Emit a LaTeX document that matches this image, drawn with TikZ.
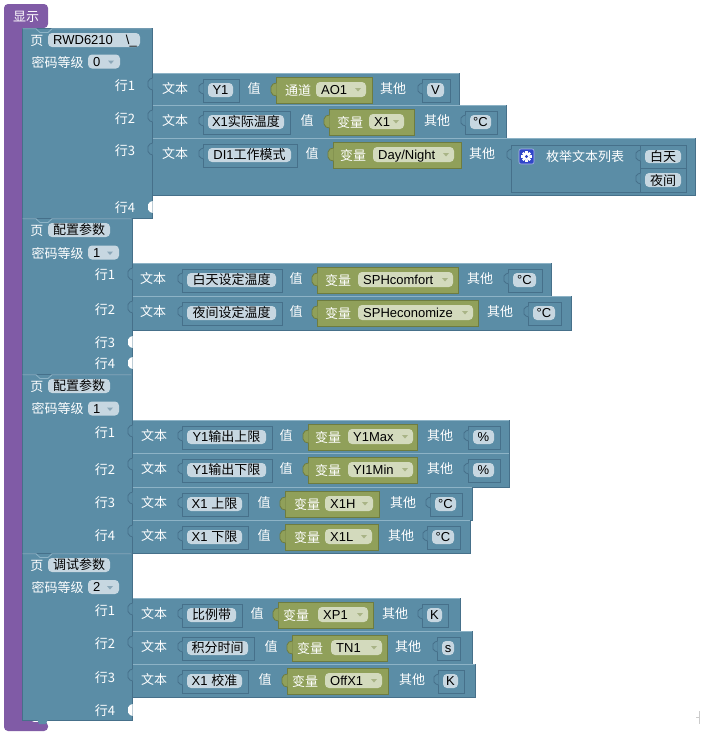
\documentclass[tikz,border=0pt]{standalone}
\usepackage{fontspec}
\setmainfont{Liberation Sans}
\newfontfamily\cjk{Noto Sans CJK SC}
\definecolor{bblue}{HTML}{5B8DA6}
\definecolor{bdark}{HTML}{46708A}
\definecolor{blite}{HTML}{8DB3C6}
\definecolor{purp}{HTML}{805BA6}
\definecolor{grn}{HTML}{90A05A}
\definecolor{gdark}{HTML}{6E7C3F}
\definecolor{fldb}{HTML}{C7D7E1}
\definecolor{fldg}{HTML}{D3DABD}
\definecolor{arrg}{HTML}{A9B486}
\definecolor{arrb}{HTML}{8BA7B8}
\definecolor{gearb}{HTML}{2F45C8}
\tikzset{
 lbl/.style={text=white, font=\fontsize{13}{15}\selectfont\cjk, inner sep=0pt, anchor=base},
 ftxt/.style={text=black, font=\fontsize{13}{15}\selectfont, inner sep=0pt, anchor=base},
 pageb/.style={fill=bblue, draw=bdark, line width=0.8pt},
 rowb/.style={fill=bblue, draw=bdark, line width=0.8pt},
 subb/.style={draw=bdark, line width=0.8pt},
 gblk/.style={fill=grn, draw=gdark, line width=0.8pt},
 hilite/.style={draw=blite, line width=0.8pt},
}
% row block: top, bottom, left, right
\newcommand\RowBlk[4]{%
  \path[rowb] (#3,#1) rectangle (#4,#2);
  \path[hilite] (#3+0.5,#1+0.8) -- (#4-0.5,#1+0.8);
  \path[rowb] (#3+0.6,#1+5) -- (#3-2,#1+6) -- (#3-4,#1+8.5) -- (#3-4,#1+13.5) -- (#3-2,#1+16) -- (#3+0.6,#1+17);
}
% text sub-block: name, top, left, right, text
\newcommand\TxtB[5]{%
  \path[subb, fill=bblue] (#3,#2+6) rectangle (#4,#2+29);
  \path[subb, fill=bblue] (#3+0.6,#2+10) -- (#3-2,#2+11) -- (#3-4,#2+13) -- (#3-4,#2+18) -- (#3-2,#2+20) -- (#3+0.6,#2+21);
  \fill[fldb, rounded corners=4pt] (#3+5,#2+10) rectangle (#4-6,#2+24);
  \node[ftxt] (#1) at ({(#3+#4-1)/2},#2+21.5) {#5};
}
% green block: top, left, right
\newcommand\GrnB[3]{%
  \path[gblk] (#2,#1+4) rectangle (#3,#1+30);
  \path[gblk] (#2+0.6,#1+10) -- (#2-3,#1+11) -- (#2-5,#1+14) -- (#2-5,#1+19) -- (#2-3,#1+22) -- (#2+0.6,#1+23);
}
% green dropdown: name, top, left, right, text
\newcommand\DropG[5]{%
  \fill[fldg, rounded corners=4pt] (#3,#2+9) rectangle (#4,#2+24);
  \node[ftxt, anchor=base west] (#1) at (#3+5,#2+21.5) {#5};
  \fill[arrg] (#4-11,#2+15) -- (#4-5,#2+15) -- (#4-8,#2+18.5) -- cycle;
}
% blue dropdown: name, y-top, left, right, text
\newcommand\DropB[5]{%
  \fill[fldb, rounded corners=4pt] (#3,#2) rectangle (#4,#2+14);
  \node[ftxt, anchor=base west] (#1) at (#3+5,#2+11.5) {#5};
  \fill[arrb] (#4-12,#2+6) -- (#4-6,#2+6) -- (#4-9,#2+9.5) -- cycle;
}
% white empty-input notch: right, y
\newcommand\NotchW[2]{%
  \fill[white] (#1+0.6,#2-7) -- (#1-2,#2-6) -- (#1-4,#2-3.5) -- (#1-4,#2+1.5) -- (#1-2,#2+4) -- (#1+0.6,#2+5) -- cycle;
}
% page: top, bottom, right
\newcommand\PageB[3]{%
  \path[pageb] (22,#1) rectangle (#3,#2);
  \path[hilite] (22.5,#1+0.8) -- (36,#1+0.8) -- (40,#1+4.5) -- (48,#1+4.5) -- (52,#1+0.8) -- (#3-0.5,#1+0.8);
}
\begin{document}
\begin{tikzpicture}[x=1pt,y=-1pt]
\useasboundingbox (0,0) rectangle (701,739);
\fill[white] (0,0) rectangle (701,739);
% outer purple block
\fill[purp, rounded corners=4pt] (4,4) -- (48,4) -- (48,28) -- (30,28) -- (30,722) -- (48,722) -- (48,731) -- (4,731) -- cycle;
\node[lbl] (show) at (26,21) {显示};
% pages
\PageB{28}{218}{152}
\PageB{218}{374}{132}
\PageB{374}{553}{132}
\PageB{553}{720}{132}
\fill[bblue] (37,719) -- (39,724) -- (46,724) -- (48,719) -- cycle;
% page headers
\node[lbl] (pg1) at (37,45) {页};
\fill[fldb, rounded corners=4pt] (48,33) rectangle (140,47);
\node[ftxt, anchor=base west] (pg1f) at (53,44.5) {RWD6210\hspace{13pt}\textbackslash\_};
\node[lbl] (pw1) at (57.5,67) {密码等级};
\DropB{pw1d}{54.5}{88}{120}{0}
\node[lbl] (pg2) at (37,235) {页};
\fill[fldb, rounded corners=4pt] (48,223) rectangle (110,237);
\node[ftxt] (pg2f) at (79,234.5) {\cjk 配置参数};
\node[lbl] (pw2) at (57.5,258) {密码等级};
\DropB{pw2d}{245.5}{88}{119}{1}
\node[lbl] (pg3) at (37,391.5) {页};
\fill[fldb, rounded corners=4pt] (48,379) rectangle (110,393);
\node[ftxt] (pg3f) at (79,390.5) {\cjk 配置参数};
\node[lbl] (pw3) at (57.5,413.5) {密码等级};
\DropB{pw3d}{401.5}{88}{119}{1}
\node[lbl] (pg4) at (37,570) {页};
\fill[fldb, rounded corners=4pt] (48,558) rectangle (110,572);
\node[ftxt] (pg4f) at (79,569.5) {\cjk 调试参数};
\node[lbl] (pw4) at (57.5,592) {密码等级};
\DropB{pw4d}{580}{88}{119}{2}
% row labels
\node[lbl] (l11) at (125,90) {行1};
\node[lbl] (l12) at (125,123) {行2};
\node[lbl] (l13) at (125,155) {行3};
\node[lbl] (l14) at (125,212) {行4};
\node[lbl] (l21) at (105,279) {行1};
\node[lbl] (l22) at (105,314) {行2};
\node[lbl] (l23) at (105,347) {行3};
\node[lbl] (l24) at (105,368) {行4};
\node[lbl] (l31) at (105,437) {行1};
\node[lbl] (l32) at (105,474) {行2};
\node[lbl] (l33) at (105,507) {行3};
\node[lbl] (l34) at (105,540) {行4};
\node[lbl] (l41) at (105,615) {行1};
\node[lbl] (l42) at (105,648) {行2};
\node[lbl] (l43) at (105,682) {行3};
\node[lbl] (l44) at (105,715) {行4};
\NotchW{152}{208}
\NotchW{132}{343}
\NotchW{132}{364}
\NotchW{132}{711}
% ---- page 1 rows
\RowBlk{73}{105}{152}{459}
\node[lbl] (a11) at (175,93.5) {文本};
\TxtB{t11}{73}{203}{239}{Y1}
\node[lbl] (v11) at (254,93.5) {值};
\GrnB{73}{276}{372}
\node[lbl] (g11) at (298,95) {通道};
\DropG{d11}{73}{316}{366}{AO1}
\node[lbl] (o11) at (393,93.5) {其他};
\TxtB{x11}{73}{422}{450}{V}
\RowBlk{105}{138}{152}{506}
\node[lbl] (a12) at (175,125.5) {文本};
\TxtB{t12}{105}{203}{290}{X1{\cjk 实际温度}}
\node[lbl] (v12) at (307,125.5) {值};
\GrnB{105}{329}{414}
\node[lbl] (g12) at (350,127) {变量};
\DropG{d12}{105}{369}{404}{X1}
\node[lbl] (o12) at (437,125.5) {其他};
\TxtB{x12}{105}{465}{497}{°C}
\RowBlk{138}{195}{152}{695}
\node[lbl] (a13) at (175,158.5) {文本};
\TxtB{t13}{138}{203}{297}{DI1{\cjk 工作模式}}
\node[lbl] (v13) at (312,158.5) {值};
\GrnB{138}{333}{461}
\node[lbl] (g13) at (353,160) {变量};
\DropG{d13}{138}{373}{454}{Day/Night}
\node[lbl] (o13) at (482,158.5) {其他};
% enum block
\path[subb, fill=bblue] (511,145) rectangle (686,192);
\path[subb, fill=bblue] (511.6,149) -- (509,150) -- (507,152) -- (507,157) -- (509,159) -- (511.6,160);
\path[subb] (640,145) -- (640,192);
\path[subb] (640,168.5) -- (686,168.5);
\path[subb, fill=bblue] (640.6,150) -- (638,151) -- (636,153) -- (636,158) -- (638,160) -- (640.6,161);
\path[subb, fill=bblue] (640.6,173) -- (638,174) -- (636,176) -- (636,181) -- (638,183) -- (640.6,184);
\fill[gearb, rounded corners=2pt] (519,149) rectangle (534,164);
\draw[white!60!gearb, line width=0.6pt, rounded corners=2pt] (519,149) rectangle (534,164);
\fill[white] (526.5,156.5) circle (3.6);
\foreach \a in {0,45,...,315}
  \fill[white, rotate around={\a:(526.5,156.5)}] (525.4,151.3) rectangle (527.6,153.5);
\fill[gearb] (526.5,156.5) circle (1.6);
\node[lbl] (enum) at (585,161) {枚举文本列表};
\fill[fldb, rounded corners=4pt] (645,150) rectangle (681,163);
\node[ftxt] (e1) at (663,161) {\cjk 白天};
\fill[fldb, rounded corners=4pt] (645,173) rectangle (681,187);
\node[ftxt] (e2) at (663,185) {\cjk 夜间};
% ---- page 2 rows
\RowBlk{263}{296}{132}{551}
\node[lbl] (a21) at (153,283.5) {文本};
\TxtB{t21}{263}{182}{282}{\cjk 白天设定温度}
\node[lbl] (v21) at (296,283.5) {值};
\GrnB{263}{317}{458}
\node[lbl] (g21) at (338,285) {变量};
\DropG{d21}{263}{358}{453}{SPHcomfort}
\node[lbl] (o21) at (480,283.5) {其他};
\TxtB{x21}{263}{508}{542}{°C}
\RowBlk{296}{330}{132}{571}
\node[lbl] (a22) at (153,316.5) {文本};
\TxtB{t22}{296}{182}{282}{\cjk 夜间设定温度}
\node[lbl] (v22) at (296,316.5) {值};
\GrnB{296}{317}{478}
\node[lbl] (g22) at (338,318) {变量};
\DropG{d22}{296}{358}{473}{SPHeconomize}
\node[lbl] (o22) at (500,316.5) {其他};
\TxtB{x22}{296}{528}{561}{°C}
% ---- page 3 rows
\RowBlk{420}{453}{132}{509}
\node[lbl] (a31) at (154,440.5) {文本};
\TxtB{t31}{420}{182}{272}{Y1{\cjk 输出上限}}
\node[lbl] (v31) at (286,440.5) {值};
\GrnB{420}{308}{417}
\node[lbl] (g31) at (328,442) {变量};
\DropG{d31}{420}{348}{413}{Y1Max}
\node[lbl] (o31) at (440,440.5) {其他};
\TxtB{x31}{420}{468}{500}{\%}
\RowBlk{453}{487}{132}{509}
\node[lbl] (a32) at (154,473.5) {文本};
\TxtB{t32}{453}{182}{272}{Y1{\cjk 输出下限}}
\node[lbl] (v32) at (286,473.5) {值};
\GrnB{453}{308}{417}
\node[lbl] (g32) at (328,475) {变量};
\DropG{d32}{453}{348}{413}{YI1Min}
\node[lbl] (o32) at (440,473.5) {其他};
\TxtB{x32}{453}{468}{500}{\%}
\RowBlk{487}{520}{132}{472}
\node[lbl] (a33) at (154,507.5) {文本};
\TxtB{t33}{487}{182}{248}{X1 {\cjk 上限}}
\node[lbl] (v33) at (264,507.5) {值};
\GrnB{487}{285}{379}
\node[lbl] (g33) at (307,509) {变量};
\DropG{d33}{487}{325}{373}{X1H}
\node[lbl] (o33) at (403,507.5) {其他};
\TxtB{x33}{487}{430}{462}{°C}
\RowBlk{520}{553}{132}{470}
\node[lbl] (a34) at (154,540.5) {文本};
\TxtB{t34}{520}{182}{248}{X1 {\cjk 下限}}
\node[lbl] (v34) at (264,540.5) {值};
\GrnB{520}{285}{378}
\node[lbl] (g34) at (307,542) {变量};
\DropG{d34}{520}{325}{372}{X1L}
\node[lbl] (o34) at (401,540.5) {其他};
\TxtB{x34}{520}{427}{460}{°C}
% ---- page 4 rows
\RowBlk{598}{631}{132}{460}
\node[lbl] (a41) at (154,618.5) {文本};
\TxtB{t41}{598}{182}{242}{\cjk 比例带}
\node[lbl] (v41) at (257,618.5) {值};
\GrnB{598}{278}{373}
\node[lbl] (g41) at (296,620) {变量};
\DropG{d41}{598}{318}{368}{XP1}
\node[lbl] (o41) at (395,618.5) {其他};
\TxtB{x41}{598}{422}{448}{K}
\RowBlk{631}{664}{132}{472}
\node[lbl] (a42) at (154,651.5) {文本};
\TxtB{t42}{631}{182}{254}{\cjk 积分时间}
\node[lbl] (v42) at (271,651.5) {值};
\GrnB{631}{292}{387}
\node[lbl] (g42) at (310,653) {变量};
\DropG{d42}{631}{331}{382}{TN1}
\node[lbl] (o42) at (408,651.5) {其他};
\TxtB{x42}{631}{437}{460}{s}
\RowBlk{664}{697}{132}{475}
\node[lbl] (a43) at (154,684.5) {文本};
\TxtB{t43}{664}{182}{248}{X1 {\cjk 校准}}
\node[lbl] (v43) at (265,684.5) {值};
\GrnB{664}{287}{388}
\node[lbl] (g43) at (305,686) {变量};
\DropG{d43}{664}{325}{382}{OffX1}
\node[lbl] (o43) at (412,684.5) {其他};
\TxtB{x43}{664}{438}{464}{K}
% small grey mark at bottom right
\draw[black!20, line width=1pt] (699.5,711) -- (699.5,724);
\draw[black!20, line width=1pt] (696,717.5) -- (699.5,717.5);
\end{tikzpicture}
\end{document}
